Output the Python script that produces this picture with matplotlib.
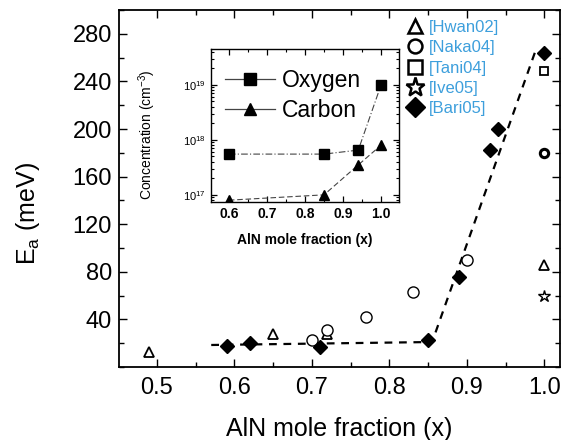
import matplotlib
matplotlib.use("Agg")
import matplotlib.pyplot as plt
from matplotlib.lines import Line2D
from matplotlib.ticker import MultipleLocator, LogLocator, NullFormatter

plt.rcParams['font.family'] = ['Liberation Sans', 'DejaVu Sans']
plt.rcParams['mathtext.fontset'] = 'custom'
plt.rcParams['mathtext.rm'] = 'Liberation Sans'
plt.rcParams['mathtext.it'] = 'Liberation Sans'

# activation energy vs AlN mole fraction, per reference
hwan_x = [0.49, 0.65, 0.72, 1.0]
hwan_y = [13, 28, 28, 86]
naka_x = [0.70, 0.72, 0.77, 0.83, 0.90]
naka_y = [23, 31, 42, 63, 90]
naka_end_x = [1.0]
naka_end_y = [180]
tani_x = [1.0]
tani_y = [249]
ive_x = [1.0]
ive_y = [60]
bari_x = [0.59, 0.62, 0.71, 0.85, 0.89, 0.93, 0.94, 1.0]
bari_y = [18, 20, 16.5, 23, 76, 182, 200, 264]

# guide to the eye
guide_x = [0.57, 0.855, 0.988]
guide_y = [18.5, 21, 265]

# inset: impurity concentration
conc_x = [0.6, 0.85, 0.94, 1.0]
oxygen = [5.5e17, 5.5e17, 6.5e17, 1.0e19]
carbon = [8e16, 1.0e17, 3.5e17, 8e17]

refs = ['[Hwan02]', '[Naka04]', '[Tani04]', '[Ive05]', '[Bari05]']
ref_color = '#3d9fdc'

fig = plt.figure(figsize=(5.65, 4.4), dpi=100)
ax = fig.add_axes([119 / 565, 1 - 367 / 440, 441 / 565, 357 / 440])

ax.plot(guide_x, guide_y, ls=(0, (3.5, 3)), color='black', lw=1.6)
ax.plot(hwan_x, hwan_y, '^', ms=7, mfc='white', mec='black', mew=1.3, ls='none')
ax.plot(naka_x, naka_y, 'o', ms=8, mfc='white', mec='black', mew=1.0, ls='none')
ax.plot(naka_end_x, naka_end_y, 'o', ms=6, mfc='white', mec='black', mew=2.2, ls='none')
ax.plot(tani_x, tani_y, 's', ms=6, mfc='white', mec='black', mew=1.3, ls='none')
ax.plot(ive_x, ive_y, '*', ms=9, mfc='white', mec='black', mew=1.0, ls='none')
ax.plot(bari_x, bari_y, 'D', ms=7.5, color='black', ls='none')

ax.set_xlim(0.451, 1.02)
ax.set_ylim(0, 300)
ax.xaxis.set_major_locator(MultipleLocator(0.1))
ax.xaxis.set_minor_locator(MultipleLocator(0.05))
ax.yaxis.set_minor_locator(MultipleLocator(20))
ax.set_yticks([40, 80, 120, 160, 200, 240, 280])
ax.yaxis.set_major_formatter(plt.FuncFormatter(lambda v, p: f"{v:.0f}"))
ax.xaxis.set_major_formatter(plt.FuncFormatter(lambda v, p: f"{v:.1f}"))
ax.tick_params(which='both', direction='in', top=True, right=True, labelsize=17)
ax.tick_params(axis='x', pad=7)
ax.tick_params(axis='y', pad=5)
ax.tick_params(which='major', length=6, width=1)
ax.tick_params(which='minor', length=3.5, width=1)
for s in ax.spines.values():
    s.set_linewidth(1.3)
ax.set_xlabel('AlN mole fraction (x)', fontsize=18)
ax.set_ylabel(r'$\mathregular{E_a}$ (meV)', fontsize=18)
ax.xaxis.set_label_coords(0.499, -0.14)
ax.yaxis.set_label_coords(-0.175, 0.43)

handles = [
    Line2D([], [], marker='^', ms=10, mfc='white', mec='black', mew=1.8, ls='none'),
    Line2D([], [], marker='o', ms=10, mfc='white', mec='black', mew=1.8, ls='none'),
    Line2D([], [], marker='s', ms=10, mfc='white', mec='black', mew=1.8, ls='none'),
    Line2D([], [], marker='*', ms=14, mfc='white', mec='black', mew=1.8, ls='none'),
    Line2D([], [], marker='D', ms=10, color='black', ls='none'),
]
leg = ax.legend(handles, refs, loc='upper right', bbox_to_anchor=(0.885, 1.0),
                frameon=False, fontsize=12, labelspacing=0.32, handletextpad=0.25,
                handlelength=1.2, borderaxespad=0.2)
for t in leg.get_texts():
    t.set_color(ref_color)

# inset
ins = fig.add_axes([211 / 565, 1 - 202 / 440, 188 / 565, 153 / 440])
ins.plot(conc_x, oxygen, color='#444444', lw=0.8, ls=(0, (6, 2, 1, 2)))
ins.plot(conc_x, carbon, color='#444444', lw=0.8, ls=(0, (5, 2.5)))
ins.plot(conc_x, oxygen, 's', ms=6.5, color='black', ls='none')
ins.plot(conc_x, carbon, '^', ms=7.5, color='black', ls='none')
ins.set_yscale('log')
ins.set_xlim(0.553, 1.047)
ins.set_ylim(10 ** 16.87, 10 ** 19.65)
ins.xaxis.set_major_locator(MultipleLocator(0.1))
ins.xaxis.set_minor_locator(MultipleLocator(0.05))
ins.xaxis.set_major_formatter(plt.FuncFormatter(lambda v, p: f"{v:.1f}"))
ins.yaxis.set_major_locator(LogLocator(base=10, numticks=10))
ins.yaxis.set_minor_locator(LogLocator(base=10, subs=range(2, 10), numticks=20))
ins.yaxis.set_minor_formatter(NullFormatter())
ins.tick_params(which='both', direction='in', top=True, right=True)
ins.tick_params(axis='x', labelsize=10)
ins.tick_params(axis='y', labelsize=8)
ins.tick_params(which='major', length=4, width=0.9)
ins.tick_params(which='minor', length=2, width=0.8)
for lab in ins.get_xticklabels():
    lab.set_fontweight('bold')
for s in ins.spines.values():
    s.set_linewidth(1.0)
ins.set_xlabel('AlN mole fraction (x)', fontsize=10, fontweight='bold')
ins.set_ylabel(r'Concentration (cm$^{-3}$)', fontsize=10)
ins.xaxis.set_label_coords(0.5, -0.2)
ins.yaxis.set_label_coords(-0.28, 0.44)

ins_handles = [
    Line2D([], [], color='#444444', lw=0.9, marker='s', ms=8, mfc='black', mec='black'),
    Line2D([], [], color='#444444', lw=0.9, marker='^', ms=9, mfc='black', mec='black'),
]
ins.legend(ins_handles, ['Oxygen', 'Carbon'], loc='upper left', frameon=False,
           fontsize=16.5, handlelength=2.2, handletextpad=0.3, labelspacing=0.3,
           borderaxespad=0.2, bbox_to_anchor=(0.0, 0.96))

fig.savefig('out.png', dpi=100)
